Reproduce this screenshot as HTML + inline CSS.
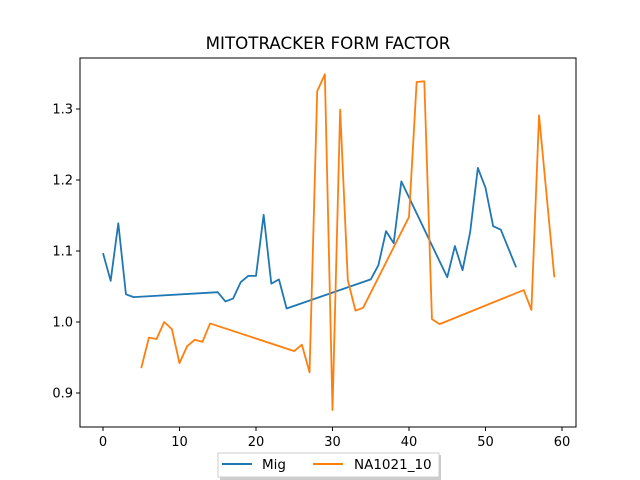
<!DOCTYPE html>
<html><head><meta charset="utf-8"><style>
body{margin:0;background:#fff;}
svg{display:block;font-family:"DejaVu Sans","Liberation Sans",sans-serif;}
</style></head><body>
<svg id="chart" width="640" height="480">
<rect width="640" height="480" fill="#fff"/>
<text x="328" y="49" text-anchor="middle" font-size="16.7">MITOTRACKER FORM FACTOR</text>
<g id="plot"></g>
<rect x="80" y="58" width="496" height="369" fill="none" stroke="#000" stroke-width="1"/>
<g>
<rect x="220" y="455" width="221" height="25" fill="#999" opacity="0.5"/>
<rect x="218" y="453" width="221" height="24" fill="#fff" stroke="#ccc"/>
<line x1="222" y1="464" x2="252" y2="464" stroke="#1f77b4" stroke-width="2"/>
<text x="262" y="469" font-size="13.5">Mig</text>
<line x1="313" y1="464" x2="343" y2="464" stroke="#ff7f0e" stroke-width="2"/>
<text x="354" y="469" font-size="13.5">NA1021_10</text>
</g>
</svg>
<script>
const migX=[0,1,2,3,4,15,16,17,18,19,20,21,22,23,24,35,36,37,38,39,45,46,47,48,49,50,51,52,54];
const migY=[1.097,1.058,1.139,1.039,1.035,1.042,1.029,1.033,1.056,1.065,1.065,1.151,1.054,1.060,1.019,1.060,1.080,1.128,1.111,1.198,1.063,1.107,1.073,1.127,1.217,1.189,1.135,1.130,1.077];
const naX=[5,6,7,8,9,10,11,12,13,14,25,26,27,28,29,30,31,32,33,34,40,41,42,43,44,55,56,57,58,59];
const naY=[0.935,0.978,0.976,1.000,0.990,0.942,0.966,0.975,0.972,0.998,0.959,0.968,0.929,1.325,1.349,0.876,1.299,1.059,1.016,1.020,1.148,1.338,1.339,1.004,0.997,1.045,1.017,1.291,1.177,1.063];
const xTicks=[0,10,20,30,40,50,60];
const yTicks=[0.9,1.0,1.1,1.2,1.3];
const xs=v=>103+v*7.65;
const ys=v=>322-(v-1.0)*710;
const NS='http://www.w3.org/2000/svg';
const g=document.getElementById('plot');
function mk(t,a){const e=document.createElementNS(NS,t);for(const k in a)e.setAttribute(k,a[k]);g.appendChild(e);return e;}
xTicks.forEach(t=>{
 const l=mk('line',{x1:xs(t),x2:xs(t),y1:427,y2:431,stroke:'#000'});
 
 
 const tx=mk('text',{x:xs(t),y:446,'text-anchor':'middle','font-size':'13'});
 tx.textContent=t;
 
 
});
yTicks.forEach(t=>{
 const l=mk('line',{x1:76,x2:80,y1:ys(t),y2:ys(t),stroke:'#000'});
 
 
 const tx=mk('text',{x:73,y:ys(t)+4.5,'text-anchor':'end','font-size':'13'});
 tx.textContent=t.toFixed(1);
 
 
});
function series(X,Y,c,name){
 const p=mk('polyline',{points:X.map((x,i)=>xs(x)+','+ys(Y[i])).join(' '),fill:'none',stroke:c,'stroke-width':'1.8','stroke-linejoin':'round'});
 
 
}
series(migX,migY,'#1f77b4','mig-line');
series(naX,naY,'#ff7f0e','na1021-line');
</script>
</body></html>
